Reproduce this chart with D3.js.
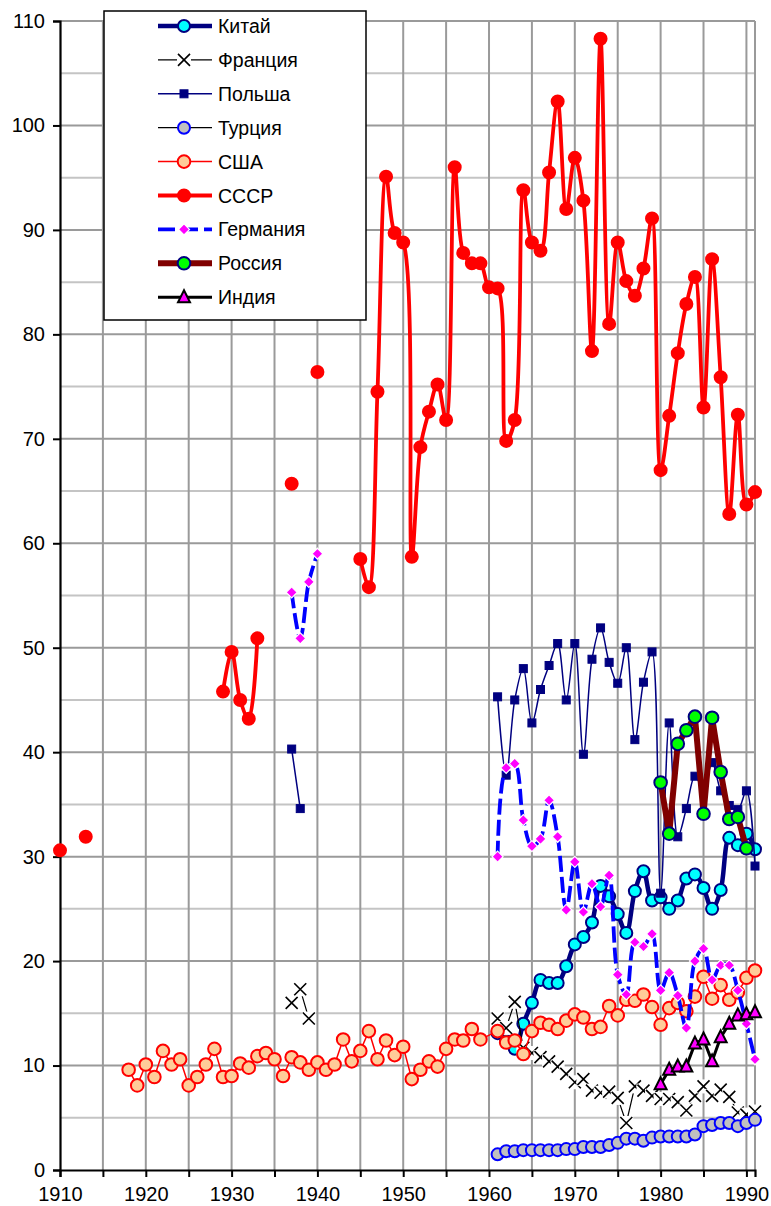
<!DOCTYPE html>
<html>
<head>
<meta charset="utf-8">
<script src="https://cdn.jsdelivr.net/npm/d3@7"></script>
<style>
  body { margin: 0; background: #fff; }
  text { font-family: "Liberation Sans", Arial, sans-serif; }
</style>
</head>
<body>
<div id="chart"></div>
<script>
// Data (null = no value that year)
const ussrStart = 1910;
const ussr = [30.6, null, null, 31.9,
  null, null, null, null, null, null, null, null, null, null, null, null, null, null, null,
  45.8, 49.6, 45.0, 43.2, 50.9, null, null, null, 65.7, null, null, 76.4,
  null, null, null, null, 58.5, 55.8, 74.5, 95.1, 89.7, 88.8,
  58.7, 69.2, 72.6, 75.2, 71.8, 96.0, 87.8, 86.8, 86.8, 84.5,
  84.4, 69.8, 71.8, 93.8, 88.8, 88.0, 95.5, 102.3, 92.0, 96.9,
  92.8, 78.4, 108.3, 81.0, 88.8, 85.1, 83.7, 86.3, 91.1, 67.0,
  72.2, 78.2, 82.9, 85.5, 73.0, 87.2, 75.9, 62.8, 72.3, 63.7, 64.9];

// USA has no point for 1960, the line just runs on
const usaYears = d3.range(1918, 1992).filter(y => y !== 1960);
const usa = [9.6, 8.1, 10.1, 8.9, 11.4, 10.1, 10.6, 8.1, 8.9, 10.1, 11.6, 8.9,
  9.0, 10.2, 9.8, 10.9, 11.2, 10.6, 9.0, 10.8, 10.3, 9.6,
  10.3, 9.6, 10.1, 12.5, 10.4, 11.4, 13.3, 10.6, 12.4, 11.0,
  11.8, 8.7, 9.6, 10.4, 9.9, 11.6, 12.5, 12.4, 13.5, 12.5,
  13.3, 12.2, 12.4, 11.1, 13.3, 14.1, 13.9, 13.5, 14.3,
  14.9, 14.6, 13.5, 13.7, 15.7, 14.8, 16.3, 16.2, 16.8, 15.6,
  13.9, 15.5, 16.0, 15.2, 16.6, 18.5, 16.4, 17.7, 16.3, 17.0,
  18.4, 19.1];

const germanyStart = 1937;
const germany = [55.3, 50.9, 56.3, 59.0,
  null, null, null, null, null, null, null, null, null, null,
  null, null, null, null, null, null, null, null, null, null,
  30.0, 38.5, 38.9, 33.5, 31.0, 31.7, 35.4, 31.9, 24.9,
  29.5, 24.7, 27.4, 25.2, 28.2, 18.7, 16.8, 21.8, 21.4, 22.6,
  17.2, 18.9, 16.7, 13.6, 20.0, 21.2, 18.2, 19.6, 19.6, 17.2,
  14.0, 10.6];

const polandStart = 1937;
const poland = [40.3, 34.6,
  null, null, null, null, null, null, null, null, null, null, null,
  null, null, null, null, null, null, null, null, null, null, null,
  45.3, 37.8, 45.0, 48.0, 42.8, 46.0, 48.3, 50.4, 45.0,
  50.4, 39.8, 48.9, 51.9, 48.6, 46.6, 50.0, 41.2, 46.7, 49.6,
  26.5, 42.8, 31.9, 34.6, 37.7, 36.5, 39.0, 36.3, 34.9, 34.5,
  36.3, 29.1];

const franceStart = 1937;
const france = [16.0, 17.3, 14.5,
  null, null, null, null, null, null, null, null, null, null,
  null, null, null, null, null, null, null, null, null, null, null,
  14.5, 13.6, 16.1, 11.7, 11.2, 10.8, 10.4, 9.9, 9.2,
  8.4, 8.7, 7.6, 7.4, 7.5, 6.9, 4.5, 8.0, 7.6, 7.1,
  6.8, 6.8, 6.5, 5.7, 7.1, 8.0, 7.1, 7.7, 7.0, 5.5,
  5.3, 5.6];

const chinaStart = 1961;
const china = [13.1, 12.4, 11.6, 14.0, 16.0, 18.2, 17.9, 17.9, 19.5,
  21.6, 22.3, 23.7, 27.2, 26.2, 24.5, 22.7, 26.7, 28.6, 25.8,
  26.1, 25.0, 25.8, 27.9, 28.3, 27.0, 25.0, 26.8, 31.8, 31.1,
  32.2, 30.7];

const turkeyStart = 1961;
const turkey = [1.5, 1.8, 1.8, 1.9, 1.9, 1.9, 1.9, 1.9, 2.0,
  2.0, 2.2, 2.2, 2.2, 2.4, 2.6, 3.0, 3.0, 2.8, 3.1,
  3.2, 3.2, 3.2, 3.2, 3.4, 4.2, 4.3, 4.5, 4.5, 4.2,
  4.5, 4.8];

const russiaStart = 1980;
const russia = [37.1, 32.2, 40.8, 42.1, 43.4, 34.1, 43.3, 38.1, 33.6, 33.8, 30.8];

const indiaStart = 1980;
const india = [8.2, 9.6, 9.9, 9.9, 12.1, 12.5, 10.4, 12.7, 14.0, 14.8, 14.9, 15.1];

const yTicks = d3.range(0, 111, 10);
const xTicks = d3.range(1910, 1991, 5);

// Turn a start year + values into points
function fromStart(start, values) {
    return values.map((v, i) => ({year: start + i, value: v}));
}
function fromYears(years, values) {
    return values.map((v, i) => ({year: years[i], value: v}));
}

const smooth = d3.curveCatmullRom.alpha(0.5);

// Series, in the order they are drawn and listed
const seriesList = [
    {name: "Китай", data: fromStart(chinaStart, china), stroke: "#000080", width: 4.5,
     curve: smooth, marker: "circle", fill: "#00ffff", mstroke: "#000080", r: 6},
    {name: "Франция", data: fromStart(franceStart, france), stroke: "#000000", width: 1.2,
     curve: d3.curveLinear, marker: "x"},
    {name: "Польша", data: fromStart(polandStart, poland), stroke: "#000080", width: 1.5,
     curve: smooth, marker: "square", fill: "#000080", mstroke: "#000080", r: 4},
    {name: "Турция", data: fromStart(turkeyStart, turkey), stroke: "#000000", width: 1.2,
     curve: d3.curveLinear, marker: "circle", fill: "#c0c0c0", mstroke: "#0000ff", r: 6},
    {name: "США", data: fromYears(usaYears, usa), stroke: "#ff0000", width: 1.5,
     curve: d3.curveLinear, marker: "circle", fill: "#ffcc99", mstroke: "#ff0000", r: 6.3},
    {name: "СССР", data: fromStart(ussrStart, ussr), stroke: "#ff0000", width: 3.8,
     curve: smooth, marker: "circle", fill: "#ff0000", mstroke: "#ff0000", r: 6},
    {name: "Германия", data: fromStart(germanyStart, germany), stroke: "#0000ff", width: 3.8,
     curve: smooth, dash: "16,5", marker: "diamond", fill: "#ff00ff", mstroke: "#ffffff", r: 5.5},
    {name: "Россия", data: fromStart(russiaStart, russia), stroke: "#800000", width: 6,
     curve: d3.curveLinear, marker: "circle", fill: "#00ff00", mstroke: "#000080", r: 6.3},
    {name: "Индия", data: fromStart(indiaStart, india), stroke: "#000000", width: 3,
     curve: d3.curveLinear, marker: "triangle", fill: "#ff00ff", mstroke: "#000000", r: 6}
];

// Dimensions
const margin = {top: 21, right: 16, bottom: 36, left: 60};
const width = 771 - margin.left - margin.right;
const height = 1206 - margin.top - margin.bottom;

const svg = d3.select("#chart")
    .append("svg")
    .attr("width", width + margin.left + margin.right)
    .attr("height", height + margin.top + margin.bottom)
    .append("g")
    .attr("transform", `translate(${margin.left},${margin.top})`);

const x = d3.scaleLinear().domain([1910, 1991]).range([0, width]);
const y = d3.scaleLinear().domain([0, 110]).range([height, 0]);

// Grid
d3.range(5, 111, 5).forEach(v => {
    svg.append("line")
        .attr("x1", 0).attr("x2", width)
        .attr("y1", y(v)).attr("y2", y(v))
        .attr("stroke", v % 10 === 0 ? "#9a9a9a" : "#c4c4c4")
        .attr("stroke-width", 2);
});
d3.range(1915, 1991, 5).forEach(yr => {
    svg.append("line")
        .attr("x1", x(yr)).attr("x2", x(yr))
        .attr("y1", 0).attr("y2", height)
        .attr("stroke", "#9a9a9a")
        .attr("stroke-width", 2);
});
svg.append("line")
    .attr("x1", width).attr("x2", width)
    .attr("y1", 0).attr("y2", height)
    .attr("stroke", "#9a9a9a")
    .attr("stroke-width", 2);

// Axes
const yAxis = svg.append("g")
    .call(d3.axisLeft(y).tickValues(yTicks).tickSize(7).tickPadding(8));
const xAxis = svg.append("g")
    .attr("transform", `translate(0,${height})`)
    .call(d3.axisBottom(x).tickValues(xTicks).tickSize(7).tickPadding(10)
        .tickFormat(d => d % 10 === 0 ? d3.format("d")(d) : ""));
[yAxis, xAxis].forEach(a => {
    a.select(".domain").attr("stroke", "#000").attr("stroke-width", 2.2);
    a.selectAll(".tick line").attr("stroke", "#000").attr("stroke-width", 2);
    a.selectAll("text")
        .attr("font-size", 20)
        .attr("fill", "#000")
        .style("font-family", "'Liberation Sans', Arial, sans-serif");
});

// Draws one marker at (cx, cy)
function drawMarker(g, s, cx, cy) {
    if (s.marker === "circle") {
        g.append("circle")
            .attr("cx", cx).attr("cy", cy).attr("r", s.r)
            .attr("fill", s.fill).attr("stroke", s.mstroke).attr("stroke-width", 2);
    } else if (s.marker === "square") {
        g.append("rect")
            .attr("x", cx - s.r).attr("y", cy - s.r)
            .attr("width", s.r * 2).attr("height", s.r * 2)
            .attr("fill", s.fill).attr("stroke", s.mstroke).attr("stroke-width", 1);
    } else if (s.marker === "diamond") {
        const r = s.r;
        g.append("path")
            .attr("d", `M${cx},${cy - r}L${cx + r},${cy}L${cx},${cy + r}L${cx - r},${cy}Z`)
            .attr("fill", s.fill).attr("stroke", s.mstroke).attr("stroke-width", 1.2);
    } else if (s.marker === "triangle") {
        const r = s.r;
        g.append("path")
            .attr("d", `M${cx},${cy - r - 1}L${cx + r},${cy + r - 1}L${cx - r},${cy + r - 1}Z`)
            .attr("fill", s.fill).attr("stroke", s.mstroke).attr("stroke-width", 2);
    } else if (s.marker === "x") {
        g.append("rect")
            .attr("x", cx - 7).attr("y", cy - 7)
            .attr("width", 14).attr("height", 14)
            .attr("fill", "#fff");
        g.append("path")
            .attr("d", `M${cx - 6},${cy - 6}L${cx + 6},${cy + 6}M${cx - 6},${cy + 6}L${cx + 6},${cy - 6}`)
            .attr("stroke", "#000").attr("stroke-width", 1.6).attr("fill", "none");
    }
}

// Lines and markers, series by series
seriesList.forEach(s => {
    const line = d3.line()
        .defined(d => d.value !== null)
        .x(d => x(d.year))
        .y(d => y(d.value))
        .curve(s.curve);

    const g = svg.append("g");
    g.append("path")
        .datum(s.data)
        .attr("fill", "none")
        .attr("stroke", s.stroke)
        .attr("stroke-width", s.width)
        .attr("stroke-linejoin", "round")
        .attr("stroke-dasharray", s.dash || null)
        .attr("d", line);

    s.data.filter(d => d.value !== null).forEach(d => {
        drawMarker(g, s, x(d.year), y(d.value));
    });
});

// Legend
const legend = svg.append("g")
    .attr("transform", `translate(${104 - margin.left}, ${11 - margin.top})`);

legend.append("rect")
    .attr("x", 0).attr("y", 0)
    .attr("width", 262).attr("height", 309)
    .attr("fill", "#fff")
    .attr("stroke", "#000")
    .attr("stroke-width", 1.5);

seriesList.forEach((s, i) => {
    const ly = 15 + i * 33.9;
    legend.append("line")
        .attr("x1", 54).attr("x2", 108)
        .attr("y1", ly).attr("y2", ly)
        .attr("stroke", s.stroke)
        .attr("stroke-width", s.width)
        .attr("stroke-dasharray", s.dash ? "17,6" : null);
    drawMarker(legend, s, 80, ly);
    legend.append("text")
        .attr("x", 114)
        .attr("y", ly)
        .attr("dy", "0.36em")
        .attr("font-size", 19.5)
        .text(s.name);
});
</script>
</body>
</html>
